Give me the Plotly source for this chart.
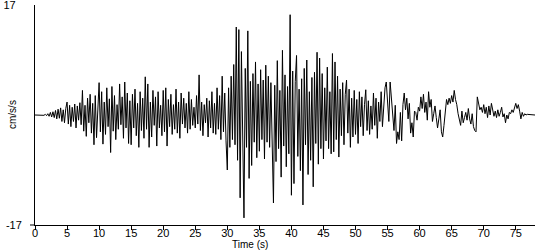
import plotly.graph_objects as go

# Acceleration record (cm/s/s), sampled every 0.2 s from t = 0 s
dt = 0.2
accel = [
    # 0-5 s
    0, 0, 0, 0, 0, 0, 0.05, -0.05, 0.1, -0.1,
    0.2, -0.2, 0.4, -0.3, 0.5, -0.4, 0.7, -0.6, 0.9, -0.5, 1.1, -1.0, 0.8, -1.2, 1.0,
    # 5-10 s
    2.0, -1.4, 1.5, -1.8, 1.2, -1.0, 1.7, -2.0, 1.4, -0.8, 1.9, -1.5, 3.8, -2.5, 1.5,
    -3.3, 2.6, -1.2, 3.2, -2.8, 1.8, -4.6, 3.0, -3.5, 2.2,
    # 10-15 s
    5.0, -2.6, 3.6, -4.5, 2.0, -3.0, 4.2, -1.8, 2.5, -5.8, 4.4, -2.5, 3.0, -3.8, 1.6,
    -2.2, 4.8, -1.5, 2.8, -3.6, 5.1, -2.0, 3.4, -4.4, 2.2,
    # 15-20 s
    -4.6, 3.2, -2.0, 4.0, -3.2, 1.8, -5.0, 3.6, -2.4, 2.6, -3.6, 5.9, -2.2, 4.8, -5.0,
    2.0, -3.4, 3.8, -1.6, 2.8, -4.8, 3.6, -2.0, 1.5, -3.2,
    # 20-25 s
    3.8, -2.6, 4.2, -4.8, 2.4, -1.8, 3.2, -3.0, 1.6, -2.2, 4.0, -2.8, 2.0, -3.6, 3.4,
    -1.4, 2.6, -2.0, 1.8, -2.8, 3.6, -2.2, 2.4, -1.6, 1.2,
    # 25-30 s
    -2.0, 3.0, -1.4, 6.2, -2.4, 2.0, -3.2, 1.6, -1.2, 2.6, -3.4, 2.2, -2.0, 3.6, -2.8,
    1.8, -3.0, 4.2, -2.2, 3.0, -3.8, 6.0, -2.6, 3.4, -4.0,
    # 30-35 s
    -8.5, 4.2, -5.0, 6.0, -3.8, 7.8, -4.6, 13.6, -7.0, 13.2, -12.8, 9.8, -6.0, -15.9, 7.2,
    -5.0, 13.0, -9.8, 5.2, -7.8, 6.4, -4.2, 8.2, -6.6, 4.8,
    # 35-40 s
    -5.6, 7.0, -3.8, 5.4, -6.8, 7.7, -4.2, 6.0, -5.0, 5.0, -3.4, -13.6, 4.6, -7.2, 8.4,
    -5.2, 3.8, -9.6, 10.0, -4.8, 6.2, -8.0, 4.4, -6.0, 15.5,
    # 40-45 s
    -12.4, 6.8, -10.6, 5.2, 9.2, -6.4, 4.0, -8.6, 5.6, -13.9, 7.2, -4.6, 8.5, -9.2, 3.6,
    -7.0, 5.8, -11.1, 6.6, -4.4, 9.7, -7.6, 8.8, -5.2, 6.4,
    # 45-50 s
    -6.8, 4.2, -4.0, 7.4, -5.2, 3.6, -6.0, 9.5, -5.7, 8.2, -3.8, 6.0, -6.5, 4.0, -3.2,
    5.0, -4.6, 3.2, 5.4, -2.8, 4.0, -5.0, 2.6, -3.4, 3.8,
    # 50-55 s
    -3.0, 2.4, -4.4, 3.6, -1.8, 2.8, -3.2, 1.6, 3.9, -2.4, 2.2, -3.0, 1.4, -2.2, 3.4,
    -1.6, 2.6, -3.6, 2.0, -1.0, 3.6, -1.8, 2.4, 4.2, 5.1,
    # 55-60 s
    2.0, -1.0, 5.1, 3.0, 0.5, -2.4, 1.5, -4.4, -2.6, -3.8, 0.4, -4.0, 1.6, 3.4, 0.8,
    2.6, -0.6, 1.8, -2.8, -1.2, -3.4, 0.6, 0.4, -0.8, 1.2,
    # 60-65 s
    0.6, 2.8, 1.0, 3.2, 0.4, 2.0, -0.8, 3.6, 1.2, 2.4, -1.0, 0.2, 1.4, -0.4, -2.0,
    -0.6, 0.8, -2.6, -3.4, -1.6, 1.0, 2.4, 1.6, 2.6, 1.8,
    # 65-70 s
    3.0, 2.0, 3.8, 2.4, 1.6, 0.2, -0.8, -1.6, 0.6, -1.2, -0.4, 0.4, -0.8, 1.0, -0.6,
    -1.4, 0.2, -1.8, -2.4, -2.6, 2.8, 1.6, 0.8, 1.2, 0.4,
    # 70-75 s
    1.6, 0.2, 1.2, -0.4, 1.4, 0.0, 1.8, 0.4, -0.2, 0.6, -0.4, 0.8, -0.2, 0.4, 1.2,
    -0.3, 0.2, -1.2, 0.0, -0.6, 0.4, 0.2, 0.8, 0.4, 1.0,
    # 75-78 s
    1.8, 1.0, 1.6, 0.6, -0.6, 0.4, -0.2, 0.2, 0.0, 0.1, 0.1, 0.0, 0.0, 0.0, 0.0, 0.0,
]
time_s = [round(i * dt, 2) for i in range(len(accel))]

x_ticks = [0, 5, 10, 15, 20, 25, 30, 35, 40, 45, 50, 55, 60, 65, 70, 75]
y_ticks = [-17, 17]
y_ticktext = ["-17", "17\u00a0\u00a0"]
x_title = "Time (s)"
y_title = "cm/s/s"

font = dict(family="Liberation Sans, Arial, sans-serif", size=11, color="black")
title_font = dict(family="Liberation Sans, Arial, sans-serif", size=10, color="black")

fig = go.Figure()
fig.add_trace(go.Scatter(
    x=time_s, y=accel, mode="lines",
    line=dict(color="black", width=1),
    hoverinfo="skip", showlegend=False,
))

fig.update_layout(
    width=550, height=250,
    margin=dict(l=35, r=15, t=5, b=25, autoexpand=False),
    paper_bgcolor="white", plot_bgcolor="white",
    font=font,
    xaxis=dict(
        range=[0, 78], tickvals=x_ticks, ticks="outside", ticklen=4,
        tickcolor="black", showline=True, linecolor="black", linewidth=1,
        showgrid=False, zeroline=False, fixedrange=True, tickfont=font,
        ticklabelstandoff=-6, automargin=False,
    ),
    yaxis=dict(
        range=[-17, 17], tickvals=y_ticks, ticktext=y_ticktext, ticks="",
        showline=True, linecolor="black", linewidth=1,
        showgrid=False, zeroline=False, fixedrange=True, tickfont=font,
        ticklabelstandoff=10, ticklabeloverflow="allow", automargin=False,
    ),
    shapes=[
        dict(type="line", xref="paper", yref="paper", x0=-0.01, x1=0, y0=0, y1=0,
             line=dict(color="black", width=1)),
    ],
    annotations=[
        dict(text=x_title, xref="paper", yref="paper", x=0.43, y=-0.0886,
             xanchor="center", yanchor="middle", showarrow=False, font=title_font),
        dict(text=y_title, xref="paper", yref="paper", x=-0.046, y=0.5,
             xanchor="center", yanchor="middle", showarrow=False, textangle=-90,
             font=title_font),
    ],
)

fig.write_html("out.html")
